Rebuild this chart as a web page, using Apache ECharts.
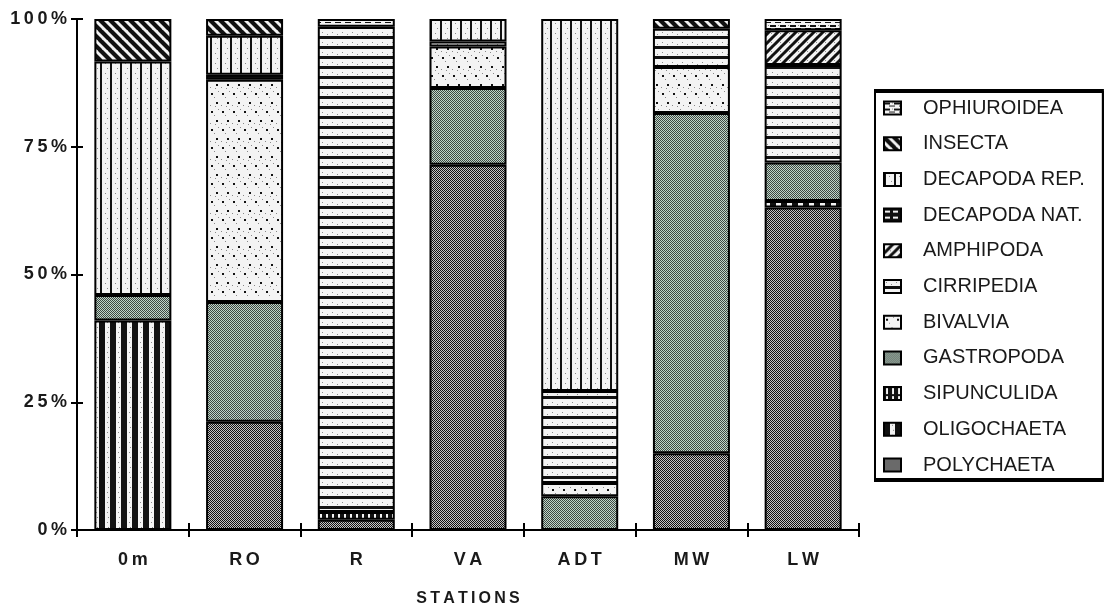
<!DOCTYPE html>
<html>
<head>
<meta charset="utf-8">
<script src="https://cdn.jsdelivr.net/npm/echarts@6/dist/echarts.min.js"></script>
<style>
  html, body { margin: 0; padding: 0; background: #fff; }
  #chart { width: 1106px; height: 612px; }
</style>
</head>
<body>
<div id="chart"></div>
<script>
// Stations along the x axis
const stations = ['0m', 'RO', 'R', 'VA', 'ADT', 'MW', 'LW'];

// Percentage share of each taxon per station (bottom of the stack first)
const polychaeta  = [0,    21.2, 2.0,  71.5, 0,    15.0, 63.1];
const oligochaeta = [41.0, 0,    0,    0,    0,    0,    1.3];
const sipunculida = [0,    0,    1.5,  0,    0,    0,    0];
const gastropoda  = [5.0,  23.4, 0,    15.0, 6.6,  66.6, 7.5];
const bivalvia    = [0,    43.5, 0,    8.1,  2.6,  9.0,  0];
const cirripedia  = [0,    0,    95.0, 1.0,  18.0, 7.5,  19.1];
const amphipoda   = [0,    0,    0,    0,    0,    0,    6.8];
const decapodaNat = [0,    1.0,  0,    0,    0,    0,    0];
const decapodaRep = [45.7, 7.6,  0,    4.4,  72.8, 0,    0];
const insecta     = [8.3,  3.3,  0,    0,    0,    1.9,  0];
const ophiuroidea = [0,    0,    1.5,  0,    0,    0,    2.2];

// Y axis tick values (percent)
const yTicks = [0, 25, 50, 75, 100];

// ---- fill patterns -------------------------------------------------------
function tile(w, h, paint) {
  const c = document.createElement('canvas');
  c.width = w; c.height = h;
  const g = c.getContext('2d');
  paint(g, w, h);
  return { image: c, repeat: 'repeat' };
}
function lightBase(g, w, h, specks) {
  g.fillStyle = '#f3f3f3';
  g.fillRect(0, 0, w, h);
  g.fillStyle = '#8a8a8a';
  specks.forEach(p => g.fillRect(p[0], p[1], 1, 1));
}
const INK = '#111';

const patPoly = tile(2, 2, (g) => {
  g.fillStyle = '#c4c4c4'; g.fillRect(0, 0, 2, 2);
  g.fillStyle = INK; g.fillRect(0, 0, 1, 1); g.fillRect(1, 1, 1, 1);
});
const patGastro = tile(2, 2, (g) => {
  g.fillStyle = '#c0d6c9'; g.fillRect(0, 0, 2, 2);
  g.fillStyle = '#3e4742'; g.fillRect(0, 0, 1, 1); g.fillRect(1, 1, 1, 1);
});
const patOligo = tile(11, 10, (g, w, h) => {
  lightBase(g, w, h, [[8, 2], [9, 7]]);
  g.fillStyle = INK; g.fillRect(0, 0, 6, h);
});
const patSipun = tile(6, 8, (g, w, h) => {
  g.fillStyle = INK; g.fillRect(0, 0, w, h);
  g.fillStyle = '#f3f3f3'; g.fillRect(2, 1, 2, 6);
});
const patBival = tile(11, 18, (g, w, h) => {
  lightBase(g, w, h, [[5, 7], [9, 1], [1, 15], [6, 16]]);
  g.fillStyle = INK; g.fillRect(2, 3, 2, 2); g.fillRect(7, 12, 2, 2);
});
const patCirri = tile(10, 10, (g, w, h) => {
  lightBase(g, w, h, [[2, 2], [7, 4]]);
  g.fillStyle = INK; g.fillRect(0, 6, w, 3);
});
const patAmphi = tile(9, 9, (g, w, h) => {
  lightBase(g, w, h, [[6, 6]]);
  g.strokeStyle = INK; g.lineWidth = 3;
  g.beginPath();
  [0, 9, 18].forEach(c => { g.moveTo(c - 10, 10); g.lineTo(c + 1, -1); });
  g.stroke();
});
const patDecNat = tile(8, 6, (g, w, h) => {
  g.fillStyle = INK; g.fillRect(0, 0, w, h);
  g.fillStyle = '#f3f3f3'; g.fillRect(1, 2, 5, 2);
});
const patDecRep = tile(10, 10, (g, w, h) => {
  lightBase(g, w, h, [[5, 3], [7, 8]]);
  g.fillStyle = INK; g.fillRect(0, 0, 2, h);
});
const patInsecta = tile(10, 10, (g, w, h) => {
  lightBase(g, w, h, []);
  g.strokeStyle = INK; g.lineWidth = 4.2;
  g.beginPath();
  [-10, 0, 10].forEach(c => { g.moveTo(c - 1, -1); g.lineTo(c + 11, 11); });
  g.stroke();
});
const patOphiu = tile(10, 6, (g, w, h) => {
  lightBase(g, w, h, [[8, 1]]);
  g.fillStyle = INK; g.fillRect(0, 1, 6, 2); g.fillRect(5, 4, 5, 1); g.fillRect(0, 4, 1, 1);
});

// Stack order, bottom to top
const taxa = [
  { name: 'POLYCHAETA',    values: polychaeta,  fill: patPoly },
  { name: 'OLIGOCHAETA',   values: oligochaeta, fill: patOligo },
  { name: 'SIPUNCULIDA',   values: sipunculida, fill: patSipun },
  { name: 'GASTROPODA',    values: gastropoda,  fill: patGastro },
  { name: 'BIVALVIA',      values: bivalvia,    fill: patBival },
  { name: 'CIRRIPEDIA',    values: cirripedia,  fill: patCirri },
  { name: 'AMPHIPODA',     values: amphipoda,   fill: patAmphi },
  { name: 'DECAPODA NAT.', values: decapodaNat, fill: patDecNat },
  { name: 'DECAPODA REP.', values: decapodaRep, fill: patDecRep },
  { name: 'INSECTA',       values: insecta,     fill: patInsecta },
  { name: 'OPHIUROIDEA',   values: ophiuroidea, fill: patOphiu }
];

const FONT = "'Liberation Sans', Arial, Helvetica, sans-serif";
const thin = '\u2009';
const spaced = s => s.split('').join(thin);

const series = taxa.map(t => ({
  name: t.name,
  type: 'bar',
  stack: 'total',
  barWidth: 77,
  data: t.values.map(v => (v === 0 ? '-' : v)),
  itemStyle: { color: t.fill, borderColor: '#000', borderWidth: 2 },
  emphasis: { disabled: true }
}));

const chart = echarts.init(document.getElementById('chart'), null, { renderer: 'canvas' });
chart.setOption({
  animation: false,
  backgroundColor: '#fff',
  grid: { left: 77, top: 19, width: 782, height: 513 },
  xAxis: [
    {
      type: 'category',
      data: stations,
      axisLine: { lineStyle: { color: '#000', width: 2 } },
      axisTick: { show: true, length: 7, interval: 0, lineStyle: { color: '#000', width: 2 } },
      axisLabel: {
        margin: 21, color: '#1a1a1a', fontFamily: FONT, fontWeight: 'bold', fontSize: 18,
        formatter: v => spaced(v)
      },
      name: spaced('STATIONS'),
      nameLocation: 'middle',
      nameGap: 61,
      nameTextStyle: { color: '#1a1a1a', fontFamily: FONT, fontWeight: 'bold', fontSize: 16 }
    },
    {
      type: 'category',
      data: stations,
      position: 'bottom',
      axisLine: { show: false },
      axisTick: { show: true, inside: true, length: 7, interval: 0, lineStyle: { color: '#000', width: 2 } },
      axisLabel: { show: false }
    }
  ],
  yAxis: [
    {
      type: 'value',
      min: yTicks[0],
      max: yTicks[yTicks.length - 1],
      interval: yTicks[1] - yTicks[0],
      splitLine: { show: false },
      axisLine: { show: true, lineStyle: { color: '#000', width: 2 } },
      axisTick: { show: true, length: 6, lineStyle: { color: '#000', width: 2 } },
      axisLabel: {
        margin: 10, color: '#1a1a1a', fontFamily: FONT, fontWeight: 'bold', fontSize: 18,
        formatter: v => spaced(v + '%')
      }
    },
    {
      type: 'value',
      position: 'left',
      min: yTicks[0],
      max: yTicks[yTicks.length - 1],
      interval: yTicks[1] - yTicks[0],
      splitLine: { show: false },
      axisLine: { show: false },
      axisTick: { show: true, inside: true, length: 6, lineStyle: { color: '#000', width: 2 } },
      axisLabel: { show: false }
    }
  ],
  legend: {
    orient: 'vertical',
    left: 875,
    top: 90,
    icon: 'rect',
    itemWidth: 17,
    itemHeight: 13,
    itemGap: 15.7,
    padding: [8, 18, 4, 8],
    borderColor: '#000',
    borderWidth: 2,
    backgroundColor: '#fff',
    shadowColor: '#000',
    shadowOffsetY: 2,
    shadowBlur: 0,
    selectedMode: false,
    textStyle: { color: '#1a1a1a', fontFamily: FONT, fontSize: 20, lineHeight: 20, padding: [0, 0, 0, 17] },
    data: taxa.map(t => t.name).reverse()
  },
  series: series
});
</script>
</body>
</html>
